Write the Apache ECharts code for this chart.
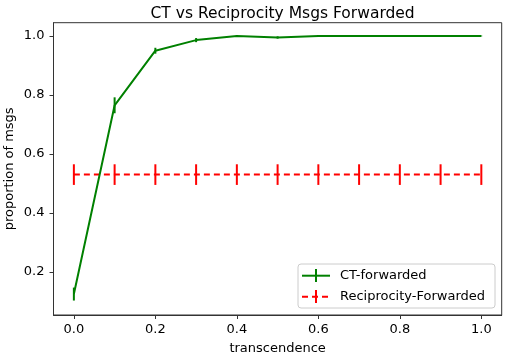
<!DOCTYPE html>
<html>
<head>
<meta charset="utf-8">
<script src="https://cdn.jsdelivr.net/npm/echarts@6/dist/echarts.min.js"></script>
<style>
html,body{margin:0;padding:0;background:#fff;}
#chart{width:505px;height:357px;}
</style>
</head>
<body>
<div id="chart"></div>
<script>
// data
var xs = [0.0, 0.1, 0.2, 0.3, 0.4, 0.5, 0.6, 0.7, 0.8, 0.9, 1.0];
var ctMean = [0.125, 0.765, 0.95, 0.986, 1.0, 0.995, 1.0, 1.0, 1.0, 1.0, 1.0];
var ctErr = [0.022, 0.027, 0.01, 0.007, 0.003, 0.004, 0.002, 0.001, 0.001, 0.001, 0.001];
var recMean = [0.53, 0.53, 0.53, 0.53, 0.53, 0.53, 0.53, 0.53, 0.53, 0.53, 0.53];
var recErr = [0.035, 0.035, 0.035, 0.035, 0.035, 0.035, 0.035, 0.035, 0.035, 0.035, 0.035];
var xTicks = [0.0, 0.2, 0.4, 0.6, 0.8, 1.0];
var yTicks = [0.2, 0.4, 0.6, 0.8, 1.0];

var FONT = 'DejaVu Sans';
var GREEN = '#008000', RED = '#ff0000';

function pairs(m){
	return xs.map(function(x,i){ return [x, m[i]]; });
}
function bars(m,e){
	return xs.map(function(x,i){ return [x, m[i]-e[i], m[i]+e[i]]; });
}
//误差线
function errRender(color){
	return function(params, api){
		var p1 = api.coord([api.value(0), api.value(1)]);
		var p2 = api.coord([api.value(0), api.value(2)]);
		return {type:'line', shape:{x1:p1[0],y1:p1[1],x2:p2[0],y2:p2[1]},
			style:{stroke:color, lineWidth:2}};
	};
}

var myChart = echarts.init(document.getElementById('chart'), null, {renderer:'canvas'});
var option = {
	animation:false,
	backgroundColor:'#fff',
	title:{text:'CT vs Reciprocity Msgs Forwarded', left:277.6, textAlign:'center', top:1,
		textStyle:{fontFamily:FONT, fontSize:15.5, fontWeight:'normal', color:'#000'}},
	grid:{left:53.5, right:3.3, top:22.7, bottom:42, outerBoundsMode:'none', containLabel:false,
		show:true, borderColor:'#333', borderWidth:1},
	xAxis:{type:'value', min:-0.05, max:1.05,
		name:'transcendence', nameLocation:'middle', nameGap:27,
		nameTextStyle:{fontFamily:FONT, fontSize:13, color:'#000'},
		axisLine:{show:true, onZero:false, lineStyle:{color:'#333'}},
		axisTick:{show:true, customValues:xTicks, length:4, lineStyle:{color:'#333'}},
		axisLabel:{customValues:xTicks, margin:8, fontFamily:FONT, fontSize:13, color:'#000',
			formatter:function(v){ return v.toFixed(1); }},
		splitLine:{show:false}},
	yAxis:{type:'value', min:0.054, max:1.045,
		name:'proportion of msgs', nameLocation:'middle', nameGap:37, nameMoveOverlap:false,
		nameTextStyle:{fontFamily:FONT, fontSize:13, color:'#000'},
		axisLine:{show:true, onZero:false, lineStyle:{color:'#333'}},
		axisTick:{show:true, customValues:yTicks, length:4, lineStyle:{color:'#333'}},
		axisLabel:{customValues:yTicks, margin:9, fontFamily:FONT, fontSize:13, color:'#000',
			formatter:function(v){ return v.toFixed(1); }},
		splitLine:{show:false}},
	series:[
		{name:'CT-forwarded', type:'line', data:pairs(ctMean), showSymbol:false,
			lineStyle:{color:GREEN, width:2}, z:3},
		{type:'custom', data:bars(ctMean,ctErr), renderItem:errRender(GREEN), z:3},
		{name:'Reciprocity-Forwarded', type:'line', data:pairs(recMean), showSymbol:false,
			lineStyle:{color:RED, width:2, type:[6,4]}, z:2},
		{type:'custom', data:bars(recMean,recErr), renderItem:errRender(RED), z:2}
	],
	graphic:[
		{type:'rect', shape:{x:298, y:264, width:197, height:44, r:3},
			style:{fill:'rgba(255,255,255,0.8)', stroke:'#ccc', lineWidth:1}, z:10},
		{type:'line', shape:{x1:302,y1:275.7,x2:330,y2:275.7}, style:{stroke:GREEN,lineWidth:2}, z:11},
		{type:'line', shape:{x1:316,y1:269,x2:316,y2:282}, style:{stroke:GREEN,lineWidth:2}, z:11},
		{type:'text', x:340, y:275.7, style:{text:'CT-forwarded', fill:'#000', font:'13px "DejaVu Sans"', verticalAlign:'middle'}, z:11},
		{type:'line', shape:{x1:302,y1:296.7,x2:330,y2:296.7}, style:{stroke:RED,lineWidth:2,lineDash:[6,4]}, z:11},
		{type:'line', shape:{x1:316,y1:290,x2:316,y2:303}, style:{stroke:RED,lineWidth:2}, z:11},
		{type:'text', x:340, y:296.7, style:{text:'Reciprocity-Forwarded', fill:'#000', font:'13px "DejaVu Sans"', verticalAlign:'middle'}, z:11}
	]
};
myChart.setOption(option);
</script>
</body>
</html>
